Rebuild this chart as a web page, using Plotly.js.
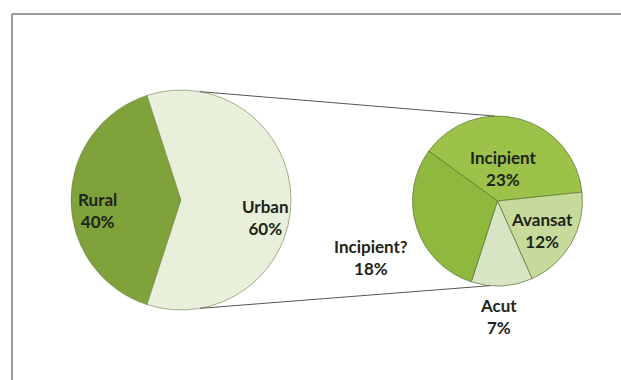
<!DOCTYPE html>
<html>
<head>
<meta charset="utf-8">
<script src="https://cdn.plot.ly/plotly-3.0.1.min.js"></script>
<style>html,body{margin:0;padding:0;background:#fff}#chart{width:621px;height:380px}</style>
</head>
<body>
<div id="chart"></div>
<script>
// ---- data ----
const mainLabels = ["Rural", "Urban"];
const mainValues = [40, 60];
const subLabels = ["Incipient", "Avansat", "Acut", "Incipient?"];
const subValues = [23, 12, 7, 18];

// ---- styling / layout ----
const W = 621, H = 380;
const mainColors = ["#7fa33a", "#e8efda"];
const subColors = ["#9cc24a", "#c6da9c", "#d8e5c4", "#8fb83e"];
const mainPie = {cx: 181, cy: 200, r: 110};
const subPie = {cx: 497.5, cy: 201, r: 85};
const mainLabelPos = [[97, 210], [265, 217]];
const subLabelPos = [[503, 168], [542, 230], [498, 316], [371, 257]];

const px = x => x / W, py = y => 1 - y / H;
function dom(p) {
  return {x: [px(p.cx - p.r), px(p.cx + p.r)], y: [py(p.cy + p.r), py(p.cy - p.r)]};
}
function pt(p, deg) {
  const a = deg * Math.PI / 180;
  return [p.cx + p.r * Math.sin(a), p.cy - p.r * Math.cos(a)];
}

const traces = [
  {
    type: "pie", labels: mainLabels, values: mainValues, sort: false,
    direction: "clockwise", rotation: 198,
    marker: {colors: mainColors, line: {color: "rgba(110,130,70,0.6)", width: 1}},
    textinfo: "none", hoverinfo: "label+percent", domain: dom(mainPie), showlegend: false
  },
  {
    type: "pie", labels: subLabels, values: subValues, sort: false,
    direction: "clockwise", rotation: -54,
    marker: {colors: subColors, line: {color: "rgba(90,115,45,0.7)", width: 1}},
    textinfo: "none", hoverinfo: "label+value", domain: dom(subPie), showlegend: false
  }
];

const total = mainValues.reduce((a, b) => a + b, 0);
const annotations = [];
mainLabels.forEach((l, i) => annotations.push({
  text: "<b>" + l + "</b><br><b>" + Math.round(mainValues[i] / total * 100) + "%</b>",
  x: px(mainLabelPos[i][0]), y: py(mainLabelPos[i][1]), xref: "paper", yref: "paper",
  showarrow: false, xanchor: "center", yanchor: "middle"
}));
subLabels.forEach((l, i) => annotations.push({
  text: "<b>" + l + "</b><br><b>" + subValues[i] + "%</b>",
  x: px(subLabelPos[i][0]), y: py(subLabelPos[i][1]), xref: "paper", yref: "paper",
  showarrow: false, xanchor: "center", yanchor: "middle"
}));

const t1 = pt(mainPie, 10), t2 = pt(subPie, -2), b1 = pt(mainPie, 170), b2 = pt(subPie, 185);
const shapes = [
  {type: "line", xref: "paper", yref: "paper", x0: px(t1[0]), y0: py(t1[1]), x1: px(t2[0]), y1: py(t2[1]), line: {color: "#555", width: 1}},
  {type: "line", xref: "paper", yref: "paper", x0: px(b1[0]), y0: py(b1[1]), x1: px(b2[0]), y1: py(b2[1]), line: {color: "#555", width: 1}},
  {type: "line", xref: "paper", yref: "paper", x0: px(12), y0: py(14), x1: 1, y1: py(14), line: {color: "#9a9a9a", width: 2}},
  {type: "line", xref: "paper", yref: "paper", x0: px(12), y0: py(14), x1: px(12), y1: 0, line: {color: "#9a9a9a", width: 2}}
];

const layout = {
  width: W, height: H, margin: {l: 0, r: 0, t: 0, b: 0},
  paper_bgcolor: "#fff", plot_bgcolor: "#fff",
  font: {family: "Lato, Carlito, 'Liberation Sans', sans-serif", size: 17, color: "#1e2418"},
  annotations: annotations, shapes: shapes, showlegend: false
};

Plotly.newPlot("chart", traces, layout, {displayModeBar: false, staticPlot: true});
</script>
</body>
</html>
